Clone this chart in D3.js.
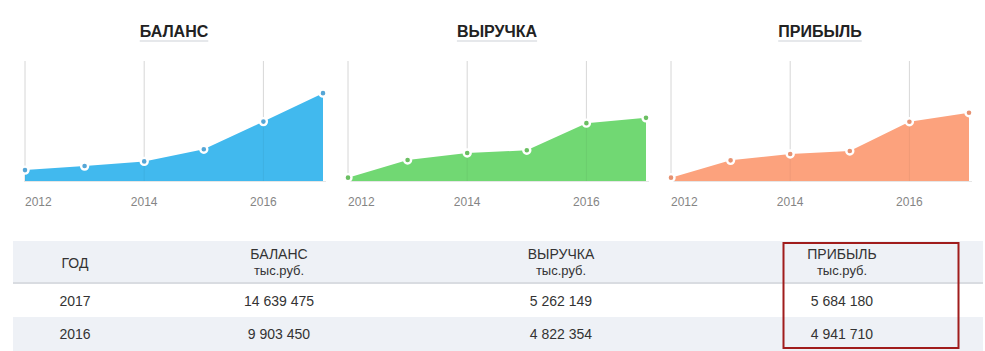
<!DOCTYPE html>
<html>
<head>
<meta charset="utf-8">
<script src="https://cdn.jsdelivr.net/npm/d3@7"></script>
<style>
  html, body { margin: 0; padding: 0; background: #fff; }
  svg { display: block; font-family: "Liberation Sans", Arial, sans-serif; }
</style>
</head>
<body>
<svg id="chart" width="985" height="351"></svg>
<script>
// ---- data ----
const years = [2012, 2013, 2014, 2015, 2016, 2017];
const balance = [1820000, 2490000, 3270000, 5300000, 9903450, 14639475];
const revenue = [280000, 1750000, 2330000, 2560000, 4822354, 5262149];
const profit = [280000, 1720000, 2250000, 2500000, 4941710, 5684180];
const seriesTitles = ["БАЛАНС", "ВЫРУЧКА", "ПРИБЫЛЬ"];
const seriesMax = [20000000, 10000000, 10000000];
const tickYears = [2012, 2014, 2016];
const tableYears = [2017, 2016];
const tableHeader = ["ГОД", "БАЛАНС", "ВЫРУЧКА", "ПРИБЫЛЬ"];
const unitLabel = "тыс.руб.";

const seriesValues = [balance, revenue, profit];
const areaColors = ["#41b9ee", "#71d873", "#fca27d"];
const markerColors = ["#56a6d6", "#6bbf62", "#e69272"];

const svg = d3.select("#chart");
const fmt = d3.formatLocale({decimal: ",", thousands: " ", grouping: [3], currency: ["", ""]}).format(",d");

// ---- charts ----
const chartW = 298, chartStep = 323, chartX0 = 25;
const yTop = 61, yBot = 181;

seriesValues.forEach((vals, i) => {
  const left = chartX0 + chartStep * i;
  const x = d3.scaleLinear().domain([2012, 2017]).range([left, left + chartW]);
  const y = d3.scaleLinear().domain([0, seriesMax[i]]).range([yBot, yTop]);
  const g = svg.append("g");

  // title
  const cx = left + chartW / 2;
  const title = g.append("text")
    .attr("x", cx).attr("y", 37)
    .attr("text-anchor", "middle")
    .attr("font-size", 16).attr("font-weight", "bold")
    .attr("fill", "#222")
    .text(seriesTitles[i]);
  const tw = title.node().getComputedTextLength();
  g.insert("rect", "text")
    .attr("x", cx - tw / 2).attr("y", 40)
    .attr("width", tw).attr("height", 2)
    .attr("fill", "#e6e8eb");

  // gridlines
  g.selectAll("line.grid").data(tickYears).join("line")
    .attr("class", "grid")
    .attr("x1", d => x(d)).attr("x2", d => x(d))
    .attr("y1", yTop).attr("y2", yBot)
    .attr("stroke", "#e2e2e2").attr("stroke-width", 1);

  // area
  const data = years.map((yr, k) => ({yr, v: vals[k]}));
  const area = d3.area().x(d => x(d.yr)).y0(yBot).y1(d => y(d.v));
  g.append("path").datum(data)
    .attr("d", area)
    .attr("fill", areaColors[i]);

  // gridlines faint over area
  g.selectAll("line.grid2").data(tickYears).join("line")
    .attr("class", "grid2")
    .attr("x1", d => x(d)).attr("x2", d => x(d))
    .attr("y1", yTop).attr("y2", yBot)
    .attr("stroke", "#000").attr("stroke-opacity", 0.05).attr("stroke-width", 1);

  // axis baseline
  g.append("line")
    .attr("x1", left - 1).attr("x2", left + chartW + 3)
    .attr("y1", yBot + 0.5).attr("y2", yBot + 0.5)
    .attr("stroke", "#e6e6e6").attr("stroke-width", 1);

  // markers
  g.selectAll("circle").data(data).join("circle")
    .attr("cx", d => x(d.yr)).attr("cy", d => y(d.v))
    .attr("r", 3.5)
    .attr("fill", markerColors[i])
    .attr("stroke", "#fff").attr("stroke-width", 2.4);

  // tick labels
  g.selectAll("text.tick").data(tickYears).join("text")
    .attr("class", "tick")
    .attr("x", d => x(d))
    .attr("y", 206)
    .attr("text-anchor", (d, k) => k === 0 ? "start" : "middle")
    .attr("font-size", 12)
    .attr("fill", "#858585")
    .text(d => d);
});

// ---- table ----
const tX = 13, tW = 970;
const colCenters = [75, 279, 561, 842];
const t = svg.append("g");
t.append("rect").attr("x", tX).attr("y", 241).attr("width", tW).attr("height", 41).attr("fill", "#eef1f6");
t.append("rect").attr("x", tX).attr("y", 282).attr("width", tW).attr("height", 2).attr("fill", "#d9dce1");
t.append("rect").attr("x", tX).attr("y", 317).attr("width", tW).attr("height", 34).attr("fill", "#eef1f6");

// header
t.append("text").attr("x", colCenters[0]).attr("y", 268)
  .attr("text-anchor", "middle").attr("font-size", 14).attr("fill", "#333")
  .text(tableHeader[0]);
tableHeader.slice(1).forEach((h, k) => {
  const tx = t.append("text").attr("text-anchor", "middle").attr("font-size", 14).attr("fill", "#333");
  tx.append("tspan").attr("x", colCenters[k + 1]).attr("y", 259).text(h);
  tx.append("tspan").attr("x", colCenters[k + 1]).attr("y", 275).attr("font-size", 13).text(unitLabel);
});

// rows
tableYears.forEach((yr, r) => {
  const idx = years.indexOf(yr);
  const rowY = [306, 339][r];
  const cells = [String(yr), fmt(balance[idx]), fmt(revenue[idx]), fmt(profit[idx])];
  cells.forEach((c, k) => {
    t.append("text").attr("x", colCenters[k]).attr("y", rowY)
      .attr("text-anchor", "middle").attr("font-size", 14).attr("fill", "#333")
      .text(c);
  });
});

// highlight box
t.append("rect").attr("x", 783.5).attr("y", 243).attr("width", 175).attr("height", 105)
  .attr("fill", "none").attr("stroke", "#a01c1c").attr("stroke-width", 2);
</script>
</body>
</html>
